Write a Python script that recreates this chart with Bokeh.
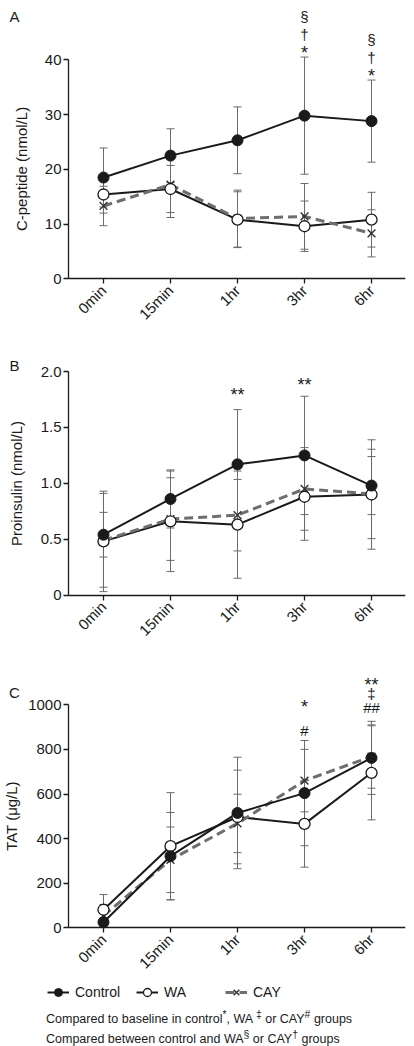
import math
from bokeh.plotting import figure
from bokeh.models import (Range1d, FixedTicker, Whisker, ColumnDataSource, TeeHead,
                          Legend, LegendItem, Div, NumeralTickFormatter, LinearAxis)
from bokeh.layouts import column
from bokeh.embed import file_html
from bokeh.resources import INLINE
from bokeh.core.properties import value

# ---------------- data ----------------
time_labels = ["0min", "15min", "1hr", "3hr", "6hr"]
x_pos = [0, 1, 2, 3, 4]

cpep_control = [18.5, 22.5, 25.3, 29.8, 28.8]
cpep_control_sd = [5.4, 4.9, 6.1, 10.7, 7.5]
cpep_wa = [15.4, 16.4, 10.8, 9.6, 10.8]
cpep_wa_sd = [3.4, 4.3, 5.1, 4.6, 5.0]
cpep_cay = [13.3, 17.2, 11.0, 11.4, 8.3]
cpep_cay_sd = [3.6, 6.0, 5.2, 6.0, 4.3]

pro_control = [0.54, 0.86, 1.17, 1.25, 0.98]
pro_control_sd = [0.20, 0.26, 0.49, 0.53, 0.26]
pro_wa = [0.48, 0.66, 0.63, 0.88, 0.90]
pro_wa_sd = [0.45, 0.45, 0.48, 0.39, 0.49]
pro_cay = [0.49, 0.68, 0.715, 0.95, 0.905]
pro_cay_sd = [0.42, 0.37, 0.32, 0.37, 0.40]

tat_control = [25, 321, 515, 604, 762]
tat_control_sd = [20, 196, 250, 236, 164]
tat_wa = [81, 366, 497, 466, 695]
tat_wa_sd = [68, 240, 210, 194, 211]
tat_cay = [55, 305, 468, 660, 768]
tat_cay_sd = [49, 147, 131, 140, 142]

# significance marks
cpep_mark_x = [3, 3, 3, 4, 4, 4]
cpep_mark_y = [47.9, 44.7, 42.0, 43.65, 40.5, 37.7]
cpep_mark_t = ["§", "†", "*", "§", "†", "*"]

pro_mark_x = [2, 3]
pro_mark_y = [1.83, 1.915]
pro_mark_t = ["**", "**"]

tat_mark_x = [3, 3, 4, 4, 4]
tat_mark_y = [1009, 885, 1109, 1049, 987]
tat_mark_t = ["*", "#", "**", "‡", "##"]

FONT = "Liberation Sans"
INK = "#1a1a1a"
ERR = "#6a6a6a"
CAYC = "#6e6e6e"
W = 414
X0 = -0.522          # left end of the drawn x axis
X1 = 4.507           # right end
XSTART = -1.537      # frame extends to the page edge


def style_axis(ax):
    ax.minor_tick_line_color = None
    ax.major_tick_in = 0
    ax.major_tick_out = 5
    ax.axis_line_width = 1.3
    ax.axis_line_color = INK
    ax.major_tick_line_color = INK
    ax.major_tick_line_width = 1.3
    ax.major_label_text_font = FONT
    ax.major_label_text_font_size = "15px"
    ax.major_label_text_color = INK


def make_panel(letter, ylabel, ctrl, ctrl_sd, wa, wa_sd, cay, cay_sd,
               ticks, ystart, yend, bound, height, letter_y, lab_standoff,
               mx, my, mt, fmt=None):
    p = figure(width=W, height=height, x_range=Range1d(XSTART, X1),
               y_range=Range1d(ystart, yend), toolbar_location=None,
               output_backend="svg", min_border_left=0, min_border_right=9,
               min_border_top=0, min_border_bottom=0,
               y_axis_location=None, x_axis_location=None)
    p.outline_line_color = None
    p.grid.visible = False
    p.background_fill_color = "white"

    # error bars
    for m, s in ((ctrl, ctrl_sd), (wa, wa_sd), (cay, cay_sd)):
        src = ColumnDataSource(dict(x=x_pos,
                                    upper=[a + b for a, b in zip(m, s)],
                                    lower=[a - b for a, b in zip(m, s)]))
        wk = Whisker(source=src, base="x", upper="upper", lower="lower",
                     line_color=ERR, line_width=1, level="underlay",
                     upper_head=TeeHead(size=8, line_color=ERR, line_width=1),
                     lower_head=TeeHead(size=8, line_color=ERR, line_width=1))
        p.add_layout(wk)

    p.line(x_pos, wa, line_color=INK, line_width=2)
    p.line(x_pos, cay, line_color=CAYC, line_width=3, line_dash="9 5")
    p.line(x_pos, ctrl, line_color=INK, line_width=2)
    p.scatter(x_pos, cay, marker="x", size=11, line_color="#333333", line_width=1.4)
    p.scatter(x_pos, wa, marker="circle", size=11, fill_color="white",
              line_color=INK, line_width=1.3)
    p.scatter(x_pos, ctrl, marker="circle", size=11, fill_color=INK,
              line_color=INK, line_width=1)

    msrc = ColumnDataSource(dict(x=mx, y=my, t=mt,
                                 off=[4 if "*" in t else 0 for t in mt],
                                 fs=["18px" if "*" in t else "15px" for t in mt]))
    p.text(x="x", y="y", text="t", y_offset="off", source=msrc,
           text_font=value(FONT), text_font_size="fs", text_color=INK,
           text_align="center", text_baseline="middle")

    # panel letter
    p.text(x=[XSTART + 14 / 67.0], y=[letter_y], text=[letter],
           text_font=value(FONT), text_font_size="15px", text_color=INK,
           text_align="center", text_baseline="middle")

    xa = LinearAxis(fixed_location=0)
    style_axis(xa)
    xa.ticker = FixedTicker(ticks=x_pos)
    xa.bounds = (X0, X1)
    xa.major_label_overrides = {i: t for i, t in zip(x_pos, time_labels)}
    xa.major_label_orientation = math.pi / 4
    xa.major_label_standoff = 4
    p.add_layout(xa, "below")

    ya = LinearAxis(fixed_location=X0)
    style_axis(ya)
    ya.ticker = FixedTicker(ticks=ticks)
    ya.bounds = bound
    if fmt is not None:
        ya.formatter = NumeralTickFormatter(format=fmt)
        ya.major_label_overrides = {0: "0"}
    ya.major_label_standoff = 2
    ya.axis_label = ylabel
    ya.axis_label_text_font = FONT
    ya.axis_label_text_font_style = "normal"
    ya.axis_label_text_font_size = "15px"
    ya.axis_label_text_color = INK
    ya.axis_label_standoff = lab_standoff
    p.add_layout(ya, "left")
    return p


pA = make_panel("A", "C-peptide (nmol/L)", cpep_control, cpep_control_sd, cpep_wa,
                cpep_wa_sd, cpep_cay, cpep_cay_sd, [0, 10, 20, 30, 40], -9.44, 50.83,
                (0, 40), 330, 47.9, 12, cpep_mark_x, cpep_mark_y, cpep_mark_t)
pB = make_panel("B", "Proinsulin (nmol/L)", pro_control, pro_control_sd, pro_wa,
                pro_wa_sd, pro_cay, pro_cay_sd, [0, 0.5, 1.0, 1.5, 2.0], -0.5865, 2.3686,
                (0, 2), 330, 2.055, 13, pro_mark_x, pro_mark_y, pro_mark_t, fmt="0.0")
pC = make_panel("C", "TAT (μg/L)", tat_control, tat_control_sd, tat_wa, tat_wa_sd,
                tat_cay, tat_cay_sd, [0, 200, 400, 600, 800, 1000], -227.4, 1198.7,
                (0, 1000), 318, 1055, 5, tat_mark_x, tat_mark_y, tat_mark_t)

# legend strip
pL = figure(width=W, height=26, x_range=Range1d(0, 1), y_range=Range1d(0, 1),
            toolbar_location=None, output_backend="svg", min_border=0)
pL.axis.visible = False
pL.grid.visible = False
pL.outline_line_color = None
off = [5, 6]
l1 = pL.line(off, off, line_color=INK, line_width=2)
s1 = pL.scatter(off, off, marker="circle", fill_color=INK, line_color=INK)
l2 = pL.line(off, off, line_color=INK, line_width=2)
s2 = pL.scatter(off, off, marker="circle", fill_color="white", line_color=INK,
                line_width=1.3)
l3 = pL.line(off, off, line_color=CAYC, line_width=3, line_dash="9 5")
s3 = pL.scatter(off, off, marker="x", line_color="#333333", line_width=1.4)
legend = Legend(items=[LegendItem(label="Control", renderers=[l1, s1]),
                       LegendItem(label="WA", renderers=[l2, s2]),
                       LegendItem(label="CAY", renderers=[l3, s3])],
                orientation="horizontal", location=(47, 2), padding=0, margin=0,
                spacing=0, glyph_width=22, glyph_height=20, label_standoff=6,
                label_width=61, label_text_font=FONT, label_text_font_size="14px",
                label_text_color=INK, border_line_color=None,
                background_fill_alpha=0)
pL.add_layout(legend)

notes = Div(text=("Compared to baseline in control<sup>*</sup>, WA <sup>‡</sup> or "
                  "CAY<sup>#</sup> groups<br>Compared between control and "
                  "WA<sup>§</sup> or CAY<sup>†</sup> groups"),
            width=W, height=42, margin=0,
            styles={"font-family": "'Liberation Sans', Arial, sans-serif",
                    "font-size": "12.5px", "line-height": "16px",
                    "color": INK, "padding-left": "46px", "padding-top": "3px"})

layout = column(pA, pB, pC, pL, notes, spacing=0)
open("out.html", "w").write(file_html(layout, INLINE))
